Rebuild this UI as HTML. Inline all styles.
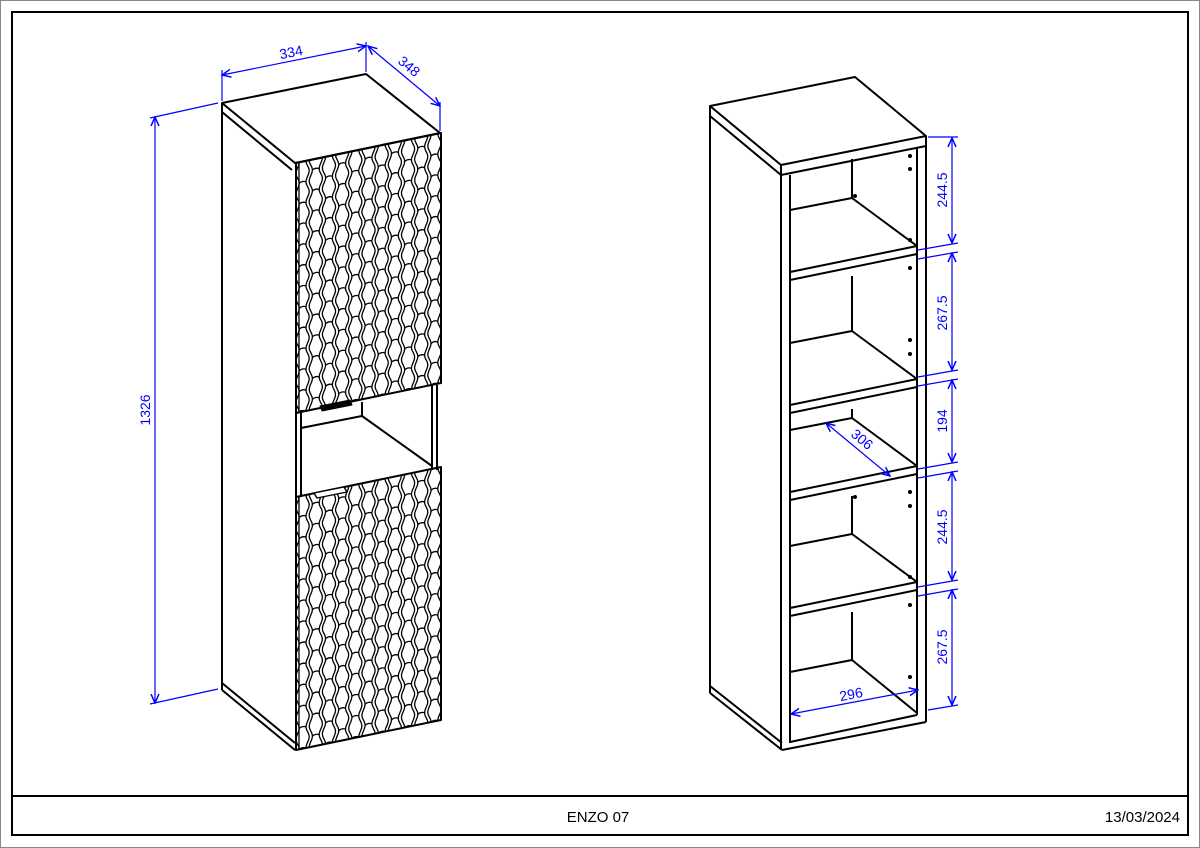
<!DOCTYPE html>
<html><head><meta charset="utf-8"><style>
html,body{margin:0;padding:0;background:#fff;}
svg{display:block;}
text{font-family:"Liberation Sans",sans-serif;}
.d{fill:#0000ff;font-size:14px;font-family:"Liberation Sans",sans-serif;}
</style></head><body>
<svg id="s" width="1200" height="848" viewBox="0 0 1200 848" xmlns="http://www.w3.org/2000/svg">
<defs>
<marker id="ar" markerWidth="10" markerHeight="10" refX="9" refY="5" orient="auto-start-reverse" markerUnits="userSpaceOnUse"><path d="M0,1 L9,5 L0,9" fill="none" stroke="#00f" stroke-width="1.5"/></marker>
<clipPath id="c1"><polygon points="296,163 441,133 441,383 296,413"/></clipPath>
<clipPath id="c2"><polygon points="296,497 441,467 441,720 296,750"/></clipPath>
</defs>
<rect x="0.5" y="0.5" width="1199" height="847" fill="none" stroke="#888" stroke-width="1"/>
<rect x="12" y="12" width="1176" height="823" fill="none" stroke="#000" stroke-width="2"/>
<line x1="12" y1="796" x2="1188" y2="796" stroke="#000" stroke-width="2"/>
<text x="598" y="822" font-size="15" text-anchor="middle">ENZO 07</text>
<text x="1180" y="822" font-size="15" text-anchor="end">13/03/2024</text>

<g fill="none" stroke="#000" stroke-width="2" stroke-linejoin="round">
<polygon points="222,103 366,74 440,133 295,163" fill="#fff"/>
<line x1="222" y1="103" x2="222" y2="690"/>
<line x1="222" y1="112" x2="292" y2="170"/>
<line x1="222" y1="683" x2="295" y2="743"/>
<line x1="222" y1="690" x2="295" y2="750"/>
<line x1="296" y1="410" x2="296" y2="500"/>
<line x1="301" y1="410" x2="301" y2="497"/>
<line x1="432" y1="385" x2="432" y2="470"/>
<line x1="437" y1="385" x2="437" y2="470"/>
<line x1="301" y1="428" x2="362" y2="416"/>
<line x1="362" y1="416" x2="362" y2="402"/>
<line x1="362" y1="416" x2="432" y2="466"/>
<g id="doors"></g>
<path d="M320,406 L350,400 L352,405 L322,411 Z" fill="#000" stroke-width="1"/>
<path d="M314,493 L344,487 L347,492 L317,498 Z" fill="#fff" stroke-width="1.4"/>

<polygon points="710,106 855,77 926,136 781,165" fill="#fff"/>
<line x1="710" y1="106" x2="710" y2="693"/>
<line x1="710" y1="116" x2="781" y2="175"/>
<line x1="781" y1="165" x2="781" y2="750"/>
<line x1="926" y1="136" x2="926" y2="722"/>
<line x1="781" y1="175" x2="926" y2="146"/>
<line x1="790" y1="175" x2="790" y2="743"/>
<line x1="917" y1="148" x2="917" y2="715"/>
<line x1="710" y1="686" x2="782" y2="743"/>
<line x1="710" y1="693" x2="782" y2="750"/>
<line x1="782" y1="750" x2="926" y2="722"/>
<line x1="790" y1="742" x2="917" y2="715"/>
<g id="shelves"></g>
</g>
<g id="dots" fill="#000"></g>

<g stroke="#00f" stroke-width="1.2" fill="none">
<line x1="222" y1="101" x2="222" y2="70"/>
<line x1="366" y1="72" x2="366" y2="42"/>
<line x1="222" y1="75" x2="366" y2="46" marker-start="url(#ar)" marker-end="url(#ar)"/>
<line x1="440" y1="131" x2="440" y2="102"/>
<line x1="368" y1="46" x2="440" y2="106" marker-start="url(#ar)" marker-end="url(#ar)"/>
<line x1="150" y1="118" x2="218" y2="103"/>
<line x1="150" y1="704" x2="218" y2="689"/>
<line x1="155" y1="117" x2="155" y2="703" marker-start="url(#ar)" marker-end="url(#ar)"/>

<line x1="928" y1="137" x2="958" y2="137"/>
<line x1="918" y1="250" x2="958" y2="243"/>
<line x1="918" y1="259" x2="958" y2="252"/>
<line x1="918" y1="377" x2="958" y2="370"/>
<line x1="918" y1="386" x2="958" y2="379"/>
<line x1="918" y1="469" x2="958" y2="462"/>
<line x1="918" y1="478" x2="958" y2="471"/>
<line x1="918" y1="587" x2="958" y2="580"/>
<line x1="918" y1="596" x2="958" y2="589"/>
<line x1="928" y1="710" x2="958" y2="705"/>
<line x1="952" y1="138" x2="952" y2="243" marker-start="url(#ar)" marker-end="url(#ar)"/>
<line x1="952" y1="253" x2="952" y2="370" marker-start="url(#ar)" marker-end="url(#ar)"/>
<line x1="952" y1="380" x2="952" y2="462" marker-start="url(#ar)" marker-end="url(#ar)"/>
<line x1="952" y1="472" x2="952" y2="580" marker-start="url(#ar)" marker-end="url(#ar)"/>
<line x1="952" y1="590" x2="952" y2="705" marker-start="url(#ar)" marker-end="url(#ar)"/>
<line x1="826" y1="423" x2="890" y2="476" marker-start="url(#ar)" marker-end="url(#ar)"/>
<line x1="791" y1="714" x2="918" y2="690" marker-start="url(#ar)" marker-end="url(#ar)"/>
</g>
<text class="d" transform="translate(292,57) rotate(-11)" text-anchor="middle">334</text>
<text class="d" transform="translate(406,70) rotate(40)" text-anchor="middle">348</text>
<text class="d" transform="translate(150,410) rotate(-90)" text-anchor="middle">1326</text>
<text class="d" transform="translate(947,190) rotate(-90)" text-anchor="middle">244.5</text>
<text class="d" transform="translate(947,313) rotate(-90)" text-anchor="middle">267.5</text>
<text class="d" transform="translate(947,421) rotate(-90)" text-anchor="middle">194</text>
<text class="d" transform="translate(947,527) rotate(-90)" text-anchor="middle">244.5</text>
<text class="d" transform="translate(947,647) rotate(-90)" text-anchor="middle">267.5</text>
<text class="d" transform="translate(859,443) rotate(40)" text-anchor="middle">306</text>
<text class="d" transform="translate(852,699) rotate(-11)" text-anchor="middle">296</text>
</svg>
<script>
var NS="http://www.w3.org/2000/svg";
function el(p,n,a){var e=document.createElementNS(NS,n);for(var k in a)e.setAttribute(k,a[k]);p.appendChild(e);return e;}
var doors=document.getElementById('doors');
function door(x0,y0,W,H,clip){
  var s=-30/145,cols=11,w=W/cols,rows=12,h=H/rows;
  var g=el(doors,'g',{'clip-path':'url(#'+clip+')','stroke-width':'1.3'});
  function P(x,v){return x.toFixed(1)+','+(y0+(x-x0)*s+v).toFixed(1);}
  for(var c=0;c<cols;c++){
    var xl=x0+c*w,off=(c%2)*h/2;
    var dl='',dr='';
    for(var v=-h;v<=H+h;v+=2){
      var k=1.6*Math.cos(2*Math.PI*(v-off)/h);
      dl+=(dl?'L':'M')+P(xl+1.6+k,v);
      dr+=(dr?'L':'M')+P(xl+w-1.6-k,v);
    }
    el(g,'path',{d:dl});el(g,'path',{d:dr});
    for(var r=-1;r<=rows+1;r++){
      var v2=off+r*h;
      el(g,'path',{d:'M'+P(xl+3.2,v2)+' Q'+P(xl+w/2,v2-2)+' '+P(xl+w-3.2,v2)});
    }
  }
  el(doors,'polygon',{points:x0+','+y0+' '+(x0+W)+','+(y0+W*s)+' '+(x0+W)+','+(y0+W*s+H)+' '+x0+','+(y0+H),'stroke-width':'2'});
  el(doors,'line',{x1:x0+3,y1:y0,x2:x0+3,y2:y0+H,'stroke-width':'1.3'});
}
door(296,163,145,250,'c1');
door(296,497,145,253,'c2');
var sh=document.getElementById('shelves');
var Ys=[272,405,492,608,742];
var prev=175;
for(var i=0;i<Ys.length;i++){
  var Y=Ys[i];
  if(i<4){
    el(sh,'line',{x1:790,y1:Y,x2:917,y2:Y-26});
    el(sh,'line',{x1:790,y1:Y+8,x2:917,y2:Y-18});
    el(sh,'line',{x1:852,y1:(i==0?159:prev-4),x2:852,y2:Y-74});
    el(sh,'line',{x1:790,y1:Y-62,x2:852,y2:Y-74});
    el(sh,'line',{x1:852,y1:Y-74,x2:917,y2:Y-26});
  } else {
    el(sh,'line',{x1:852,y1:prev-4,x2:852,y2:660});
    el(sh,'line',{x1:790,y1:672,x2:852,y2:660});
    el(sh,'line',{x1:852,y1:660,x2:917,y2:713});
  }
  prev=Y+8;
}
var dots=document.getElementById('dots');
[[910,156],[910,169],[910,240],[910,268],[910,340],[910,354],[910,492],[910,506],[910,577],[910,605],[910,677],[855,196],[855,497]].forEach(function(p){el(dots,'circle',{cx:p[0],cy:p[1],r:2});});
</script>
</body></html>
